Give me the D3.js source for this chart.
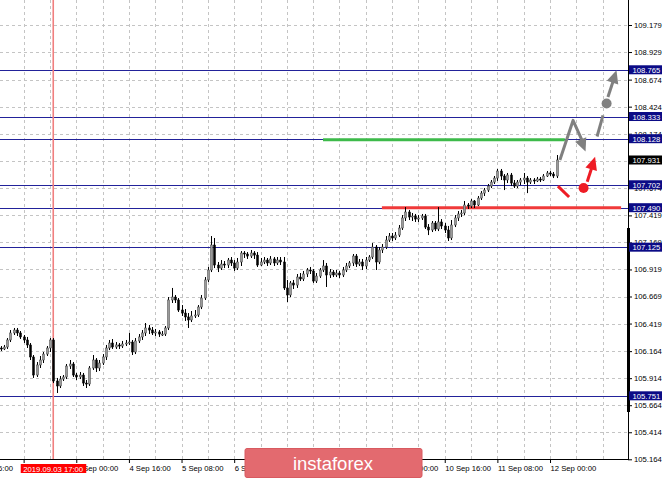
<!DOCTYPE html>
<html><head><meta charset="utf-8">
<script src="https://cdn.jsdelivr.net/npm/d3@7"></script>
<style>
html,body{margin:0;padding:0;background:#fff;}
svg{display:block;}
text{font-family:"Liberation Sans",Arial,sans-serif;}
</style></head>
<body>
<svg id="c" width="665" height="479"></svg>
<script>
// ---------- DATA ----------
const priceTicks = [109.179,108.929,108.674,108.424,108.174,107.924,107.674,107.419,107.169,106.919,106.669,106.419,106.164,105.914,105.664,105.414,105.164];
const levels = [108.765,108.333,108.128,107.702,107.490,107.125,105.751];
const currentPrice = 107.931;
const timeTickIdx = [-9,7,23,39,55,71,87,103,119,135,151,167];
const timeTickLabels = ["2 Sep 16:00","3 Sep 08:00","4 Sep 00:00","4 Sep 16:00","5 Sep 08:00","6 Sep 00:00","6 Sep 16:00","9 Sep 08:00","10 Sep 00:00","10 Sep 16:00","11 Sep 08:00","12 Sep 00:00"];
const markerIdx = 16;
const markerLabel = "2019.09.03 17:00";
const opens = [106.193,106.184,106.202,106.267,106.332,106.359,106.332,106.295,106.267,106.221,106.110,105.943,106.036,106.082,106.137,106.193,106.267,105.888,105.842,105.906,105.925,106.026,106.045,105.943,105.925,105.943,105.869,105.860,106.008,106.082,106.008,106.054,106.110,106.193,106.239,106.202,106.221,106.211,106.230,106.239,106.248,106.156,106.258,106.295,106.332,106.378,106.359,106.332,106.341,106.322,106.322,106.378,106.637,106.664,106.637,106.544,106.516,106.480,106.452,106.489,106.498,106.572,106.655,106.822,106.914,107.145,106.960,106.932,106.969,106.960,107.006,106.979,106.932,106.988,107.071,107.062,107.043,107.071,107.052,106.960,106.988,107.006,106.979,107.016,106.979,107.006,106.988,106.748,106.683,106.794,106.775,106.849,106.831,106.877,106.914,106.905,106.812,106.858,106.914,106.951,106.868,106.895,106.868,106.886,106.868,106.914,106.951,106.979,107.043,106.969,106.988,106.951,107.006,107.034,107.126,106.988,107.099,107.126,107.191,107.228,107.210,107.237,107.302,107.395,107.450,107.404,107.413,107.385,107.395,107.413,107.311,107.284,107.348,107.293,107.358,107.321,107.284,107.210,107.330,107.395,107.432,107.441,107.515,107.505,107.552,107.515,107.579,107.625,107.653,107.690,107.727,107.764,107.829,107.783,107.746,107.792,107.718,107.690,107.727,107.746,107.764,107.727,107.746,107.737,107.755,107.746,107.783,107.811,107.801,107.783];
const highs = [106.211,106.221,106.285,106.359,106.378,106.378,106.350,106.313,106.295,106.239,106.128,106.063,106.119,106.156,106.211,106.285,106.285,105.916,105.934,105.943,106.045,106.082,106.063,105.962,105.971,105.962,105.897,106.026,106.128,106.100,106.082,106.137,106.221,106.267,106.276,106.248,106.239,106.258,106.267,106.332,106.267,106.285,106.322,106.359,106.424,106.406,106.387,106.369,106.359,106.350,106.396,106.664,106.748,106.683,106.655,106.590,106.553,106.516,106.535,106.544,106.590,106.683,106.849,106.942,107.228,107.210,106.988,107.006,106.997,107.025,107.034,107.006,107.025,107.089,107.089,107.080,107.099,107.089,107.080,107.025,107.034,107.025,107.043,107.034,107.034,107.034,107.034,106.822,106.812,106.822,106.877,106.886,106.905,106.932,106.942,106.923,106.886,106.932,107.006,106.979,106.923,106.914,106.914,106.905,106.942,106.979,106.997,107.062,107.062,107.016,107.016,107.034,107.052,107.163,107.145,107.126,107.154,107.228,107.256,107.256,107.265,107.330,107.422,107.496,107.469,107.441,107.432,107.422,107.432,107.432,107.339,107.367,107.367,107.496,107.385,107.348,107.321,107.376,107.422,107.459,107.469,107.552,107.533,107.570,107.561,107.598,107.644,107.672,107.709,107.746,107.783,107.848,107.848,107.801,107.811,107.811,107.746,107.746,107.764,107.811,107.783,107.764,107.764,107.774,107.774,107.801,107.829,107.829,107.820,107.977];
const lows = [106.165,106.174,106.184,106.248,106.313,106.304,106.276,106.239,106.193,106.082,105.916,105.925,106.008,106.054,106.119,106.156,105.869,105.777,105.823,105.888,105.906,105.999,105.925,105.897,105.906,105.842,105.823,105.842,105.990,105.971,105.980,106.036,106.082,106.174,106.184,106.184,106.184,106.193,106.211,106.221,106.128,106.137,106.239,106.267,106.304,106.322,106.313,106.304,106.295,106.304,106.304,106.359,106.609,106.609,106.526,106.489,106.443,106.378,106.433,106.470,106.480,106.553,106.637,106.803,106.895,106.932,106.895,106.914,106.932,106.932,106.951,106.905,106.914,106.951,107.025,107.016,107.025,107.016,106.942,106.951,106.969,106.951,106.960,106.951,106.960,106.960,106.729,106.618,106.664,106.738,106.748,106.812,106.812,106.849,106.877,106.794,106.794,106.840,106.895,106.757,106.840,106.849,106.849,106.840,106.849,106.895,106.932,106.951,106.942,106.951,106.914,106.923,106.988,107.016,106.914,106.969,107.071,107.108,107.173,107.182,107.191,107.219,107.284,107.367,107.376,107.367,107.358,107.358,107.376,107.293,107.237,107.265,107.274,107.274,107.293,107.256,107.182,107.191,107.311,107.367,107.404,107.422,107.478,107.487,107.487,107.505,107.561,107.598,107.635,107.672,107.709,107.737,107.746,107.653,107.718,107.690,107.672,107.672,107.700,107.709,107.625,107.709,107.709,107.727,107.727,107.737,107.774,107.783,107.764,107.764];
const closes = [106.184,106.202,106.267,106.332,106.359,106.332,106.295,106.267,106.221,106.110,105.943,106.036,106.082,106.137,106.193,106.267,105.888,105.842,105.906,105.925,106.026,106.045,105.943,105.925,105.943,105.869,105.860,106.008,106.082,106.008,106.054,106.110,106.193,106.239,106.202,106.221,106.211,106.230,106.239,106.248,106.156,106.258,106.295,106.332,106.378,106.359,106.332,106.341,106.322,106.322,106.378,106.637,106.664,106.637,106.544,106.516,106.480,106.452,106.489,106.498,106.572,106.655,106.822,106.914,107.145,106.960,106.932,106.969,106.960,107.006,106.979,106.932,106.988,107.071,107.062,107.043,107.071,107.052,106.960,106.988,107.006,106.979,107.016,106.979,107.006,106.988,106.748,106.683,106.794,106.775,106.849,106.831,106.877,106.914,106.905,106.812,106.858,106.914,106.951,106.868,106.895,106.868,106.886,106.868,106.914,106.951,106.979,107.043,106.969,106.988,106.951,107.006,107.034,107.126,106.988,107.099,107.126,107.191,107.228,107.210,107.237,107.302,107.395,107.450,107.404,107.413,107.385,107.395,107.413,107.311,107.284,107.348,107.293,107.358,107.321,107.284,107.210,107.330,107.395,107.432,107.441,107.515,107.505,107.552,107.515,107.579,107.625,107.653,107.690,107.727,107.764,107.829,107.783,107.746,107.792,107.718,107.690,107.727,107.746,107.764,107.727,107.746,107.737,107.755,107.746,107.783,107.811,107.801,107.783,107.931];
// annotation drawings (bar index, price)
const greenLevel = {from: 98.0, to: 171.5, price: 108.118};
const redLevel = {from: 115.9, to: 188.6, price: 107.490};
const grayPath = [[170.0,107.931],[174.0,108.297],[176.9,108.100]];
const grayDash = [[181.3,108.148],[183.1,108.344]];
const grayDot = [184.2,108.453];
const grayArrow = [[184.6,108.513],[187.2,108.760]];
const redDash = [[169.4,107.690],[172.8,107.589]];
const redDot = [177.2,107.672];
const redArrow = [[178.3,107.730],[180.7,107.960]];

// ---------- CHART ----------
const W = 665, H = 479, plotR = 628, plotB = 460;
const svg = d3.select("#c");
const x = d3.scaleLinear().domain([0,169]).range([0.6,556.6]);
const y = d3.scaleLinear().domain([105.164,109.179]).range([459.3,25]);
const step = x(1)-x(0);

svg.append("rect").attr("width",W).attr("height",H).attr("fill","#fff");

const clip = svg.append("clipPath").attr("id","pc").append("rect").attr("x",0).attr("y",0).attr("width",plotR).attr("height",plotB);
const plot = svg.append("g").attr("clip-path","url(#pc)");

// grid
const gridIdx = d3.range(-9, 185, 8);
plot.selectAll(".vg").data(gridIdx).join("line")
  .attr("x1",d=>Math.round(x(d))+0.5).attr("x2",d=>Math.round(x(d))+0.5)
  .attr("y1",0).attr("y2",plotB)
  .attr("stroke","#c4c4c4").attr("stroke-width",1).attr("stroke-dasharray","3,3");
plot.selectAll(".hg").data(priceTicks).join("line")
  .attr("x1",0).attr("x2",plotR)
  .attr("y1",d=>Math.round(y(d))+0.5).attr("y2",d=>Math.round(y(d))+0.5)
  .attr("stroke","#c4c4c4").attr("stroke-width",1).attr("stroke-dasharray","3,3");

// level lines
plot.selectAll(".lv").data(levels).join("line")
  .attr("x1",0).attr("x2",plotR)
  .attr("y1",d=>Math.round(y(d))+0.5).attr("y2",d=>Math.round(y(d))+0.5)
  .attr("stroke","#22229a").attr("stroke-width",1);

// green & red horizontal lines
plot.append("line").attr("x1",x(greenLevel.from)).attr("x2",x(greenLevel.to))
  .attr("y1",y(greenLevel.price)).attr("y2",y(greenLevel.price))
  .attr("stroke","#3dba4a").attr("stroke-width",3);
plot.append("line").attr("x1",x(redLevel.from)).attr("x2",x(redLevel.to))
  .attr("y1",y(redLevel.price)).attr("y2",y(redLevel.price))
  .attr("stroke","#f03a3a").attr("stroke-width",3);

// marker vertical line
plot.append("line").attr("x1",x(markerIdx)).attr("x2",x(markerIdx))
  .attr("y1",0).attr("y2",plotB).attr("stroke","#f07f7f").attr("stroke-width",1.6);

// candles
const bars = d3.range(closes.length).map(i=>({i,o:opens[i],h:highs[i],l:lows[i],c:closes[i]}));
const cg = plot.append("g");
cg.selectAll(".wk").data(bars).join("line")
  .attr("x1",d=>Math.round(x(d.i))+0.5).attr("x2",d=>Math.round(x(d.i))+0.5)
  .attr("y1",d=>y(d.h)).attr("y2",d=>y(d.l)).attr("stroke","#000").attr("stroke-width",1);
cg.selectAll(".bd").data(bars).join("rect")
  .attr("x",d=>Math.round(x(d.i))-0.5).attr("width",2)
  .attr("y",d=>y(Math.max(d.o,d.c))).attr("height",d=>Math.max(1,Math.abs(y(d.o)-y(d.c))))
  .attr("fill",d=>d.c>=d.o?"#9a9a9a":"#000")
  .attr("stroke",d=>d.c>=d.o?"#444":"#000").attr("stroke-width",0.5);

// annotations
const line = d3.line().x(d=>x(d[0])).y(d=>y(d[1]));
function arrowHead(g, p0, p1, color){
  const x0=x(p0[0]), y0=y(p0[1]), x1=x(p1[0]), y1=y(p1[1]);
  const a=Math.atan2(y1-y0,x1-x0), L=13, Wd=6;
  const bx=x1-L*Math.cos(a), by=y1-L*Math.sin(a);
  const pts=[[x1,y1],[bx+Wd*Math.sin(a),by-Wd*Math.cos(a)],[bx-Wd*Math.sin(a),by+Wd*Math.cos(a)]];
  g.append("path").attr("d","M"+pts.map(p=>p.join(",")).join("L")+"Z").attr("fill",color);
}
const ag = svg.append("g");
ag.append("path").attr("d",line(grayPath)).attr("fill","none").attr("stroke","#808080").attr("stroke-width",3).attr("stroke-linejoin","round");
arrowHead(ag, grayPath[1], [grayPath[2][0]+0.9, grayPath[2][1]-0.09], "#808080");
ag.append("path").attr("d",line(grayDash)).attr("stroke","#808080").attr("stroke-width",3);
ag.append("circle").attr("cx",x(grayDot[0])).attr("cy",y(grayDot[1])).attr("r",5).attr("fill","#808080");
ag.append("path").attr("d",line([grayArrow[0],[grayArrow[1][0]-0.8,grayArrow[1][1]-0.08]])).attr("stroke","#808080").attr("stroke-width",3);
arrowHead(ag, grayArrow[0], grayArrow[1], "#808080");
ag.append("path").attr("d",line(redDash)).attr("stroke","#ee1c25").attr("stroke-width",3);
ag.append("circle").attr("cx",x(redDot[0])).attr("cy",y(redDot[1])).attr("r",5).attr("fill","#ee1c25");
ag.append("path").attr("d",line([redArrow[0],[redArrow[1][0]-0.8,redArrow[1][1]-0.08]])).attr("stroke","#ee1c25").attr("stroke-width",3);
arrowHead(ag, redArrow[0], redArrow[1], "#ee1c25");

// frame
svg.append("line").attr("x1",plotR+0.5).attr("x2",plotR+0.5).attr("y1",0).attr("y2",plotB).attr("stroke","#000");
svg.append("line").attr("x1",0).attr("x2",plotR).attr("y1",plotB-0.5).attr("y2",plotB-0.5).attr("stroke","#000");
svg.append("rect").attr("x",plotR-1).attr("y",228).attr("width",3).attr("height",184).attr("fill","#000");

// y axis
const yAxis = d3.axisRight(y).tickValues(priceTicks).tickSize(4).tickPadding(2).tickFormat(d3.format(".3f"));
const yg = svg.append("g").attr("transform",`translate(${plotR},0)`).call(yAxis);
yg.select(".domain").remove();
yg.selectAll("text").attr("font-size","7.7px").attr("fill","#000").attr("font-family","Liberation Sans, Arial, sans-serif");

// x axis
const xAxis = d3.axisBottom(x).tickValues(timeTickIdx).tickSize(4).tickPadding(3).tickFormat((d,i)=>timeTickLabels[i]);
const xg = svg.append("g").attr("transform",`translate(0,${plotB-1})`).call(xAxis);
xg.select(".domain").remove();
xg.selectAll("text").attr("font-size","7.7px").attr("fill","#000").attr("text-anchor","start")
  .attr("font-family","Liberation Sans, Arial, sans-serif");

// level labels
const lb = svg.append("g");
levels.forEach(v=>{
  const yy = y(v);
  lb.append("rect").attr("x",plotR+1).attr("y",yy-4.5).attr("width",33).attr("height",9).attr("fill","#0b0b86");
  lb.append("text").attr("x",plotR+4.5).attr("y",yy+3).attr("font-size","7.7px").attr("fill","#fff").text(d3.format(".3f")(v));
});
lb.append("rect").attr("x",plotR+1).attr("y",y(currentPrice)-4.5).attr("width",33).attr("height",9).attr("fill","#000");
lb.append("text").attr("x",plotR+4.5).attr("y",y(currentPrice)+3).attr("font-size","7.7px").attr("fill","#fff").text(d3.format(".3f")(currentPrice));

// marker label
const mx = x(markerIdx);
svg.append("rect").attr("x",mx-32.5).attr("y",464).attr("width",65.5).attr("height",9).attr("fill","#ff0000");
svg.append("text").attr("x",mx).attr("y",471.5).attr("text-anchor","middle").attr("font-size","7.7px").attr("fill","#fff").text(markerLabel);

// logo
svg.append("rect").attr("x",245).attr("y",448.5).attr("width",177).attr("height",29).attr("rx",2)
  .attr("fill","#e36a6f").attr("stroke","#d85a60").attr("stroke-width",1);
svg.append("text").attr("x",333).attr("y",469.5).attr("text-anchor","middle")
  .attr("font-family","'Open Sans', sans-serif").attr("font-size","18.5px").attr("fill","#fff").text("instaforex");
</script>
</body></html>
